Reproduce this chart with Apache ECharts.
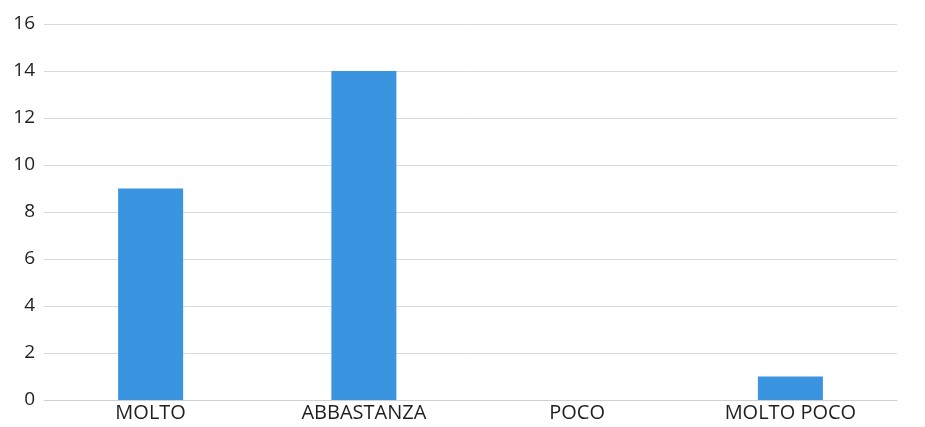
<!DOCTYPE html>
<html><head><meta charset="utf-8">
<script src="https://cdn.jsdelivr.net/npm/echarts@6/dist/echarts.min.js"></script>
<style>html,body{margin:0;padding:0;background:#fff}#c{width:925px;height:427px}</style>
</head><body><div id="c"></div>
<script>
const categories = ['MOLTO', 'ABBASTANZA', 'POCO', 'MOLTO POCO'];
const values = [9, 14, 0, 1];
const yTicks = [0, 2, 4, 6, 8, 10, 12, 14, 16];

const chart = echarts.init(document.getElementById('c'));
chart.setOption({
  animation: false,
  grid: { left: 44, right: 28, top: 24, bottom: 27, containLabel: false },
  xAxis: {
    type: 'category',
    data: categories,
    axisLine: { show: true, lineStyle: { color: '#d0d0d0', width: 1 } },
    axisTick: { show: false },
    axisLabel: { color: '#1f1f1f', fontSize: 20, fontFamily: '"Open Sans", sans-serif', margin: 3 }
  },
  yAxis: {
    type: 'value',
    min: yTicks[0], max: yTicks[yTicks.length - 1], interval: 2,
    axisLine: { show: false },
    axisTick: { show: false },
    splitLine: { lineStyle: { color: '#d9d9d9', width: 1 } },
    axisLabel: { color: '#1f1f1f', fontSize: 19, fontFamily: '"Open Sans", sans-serif', margin: 9 }
  },
  series: [{
    type: 'bar',
    data: values,
    barWidth: 65,
    itemStyle: { color: '#3a94e0' }
  }]
});
</script>
</body></html>
